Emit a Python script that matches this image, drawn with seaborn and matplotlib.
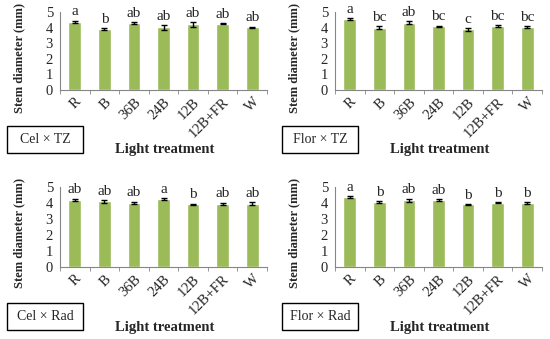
import numpy as np
import pandas as pd
import seaborn as sns
import matplotlib.pyplot as plt
from matplotlib.patches import Rectangle

sns.set_style("white")
plt.rcParams['font.family'] = ['Liberation Serif', 'DejaVu Serif']

# data
treatments = ['R', 'B', '36B', '24B', '12B', '12B+FR', 'W']

cel_tz = [4.36, 3.91, 4.28, 4.01, 4.21, 4.25, 4.01]
cel_tz_err = [0.08, 0.05, 0.08, 0.15, 0.14, 0.05, 0.06]
cel_tz_let = ['a', 'b', 'ab', 'ab', 'ab', 'ab', 'ab']

flor_tz = [4.55, 3.99, 4.31, 4.08, 3.88, 4.08, 4.02]
flor_tz_err = [0.07, 0.10, 0.11, 0.05, 0.10, 0.07, 0.07]
flor_tz_let = ['a', 'bc', 'ab', 'bc', 'c', 'bc', 'bc']

cel_rad = [4.20, 4.10, 4.01, 4.24, 3.91, 3.95, 3.95]
cel_rad_err = [0.07, 0.07, 0.06, 0.06, 0.04, 0.06, 0.10]
cel_rad_let = ['ab', 'ab', 'ab', 'a', 'b', 'ab', 'ab']

flor_rad = [4.37, 4.05, 4.16, 4.16, 3.91, 4.02, 3.98]
flor_rad_err = [0.05, 0.07, 0.10, 0.06, 0.03, 0.03, 0.07]
flor_rad_let = ['a', 'b', 'ab', 'ab', 'b', 'b', 'b']

panels = [
    ('Cel × TZ', cel_tz, cel_tz_err, cel_tz_let),
    ('Flor × TZ', flor_tz, flor_tz_err, flor_tz_let),
    ('Cel × Rad', cel_rad, cel_rad_err, cel_rad_let),
    ('Flor × Rad', flor_rad, flor_rad_err, flor_rad_let),
]

W, H = 550, 339
fig = plt.figure(figsize=(5.5, 3.39), dpi=100)

# pixel layout: (axes left, axes top, axes bottom) per panel
layout = [(60, 12, 90), (335, 12, 90), (60, 187, 267), (335, 187, 267)]
ax_w = 207
green = '#9BBB59'
spine_c = '#868686'

for (name, vals, errs, lets), (lx, ty, by) in zip(panels, layout):
    ax = fig.add_axes([lx / W, 1 - by / H, ax_w / W, (by - ty) / H])
    df = pd.DataFrame({'treatment': treatments, 'diameter': vals})
    sns.barplot(data=df, x='treatment', y='diameter', color=green,
                width=0.43, saturation=1, ax=ax)
    ax.errorbar(np.arange(len(vals)), vals, yerr=errs, fmt='none',
                ecolor='black', elinewidth=1, capsize=2.5, capthick=1)
    for i, (v, e, l) in enumerate(zip(vals, errs, lets)):
        ax.text(i, v + e + 0.15, l, ha='center', va='bottom', fontsize=11)
    ax.set_ylim(0, 5)
    ax.set_xlim(-0.5, len(vals) - 0.5)
    ax.set_yticks(range(6))
    ax.tick_params(axis='y', labelsize=10.5, length=3, color=spine_c, pad=2)
    ax.set_xticks(np.arange(len(vals)))
    ax.set_xticklabels(treatments, rotation=45, ha='right',
                       rotation_mode='anchor', fontsize=10.5)
    ax.tick_params(axis='x', which='major', length=0, pad=4)
    ax.set_xticks(np.arange(-0.5, len(vals), 1), minor=True)
    ax.tick_params(axis='x', which='minor', length=3, color=spine_c,
                   direction='out', bottom=True)
    for s in ['top', 'right']:
        ax.spines[s].set_visible(False)
    for s in ['left', 'bottom']:
        ax.spines[s].set_color(spine_c)
        ax.spines[s].set_linewidth(0.8)
    ax.set_xlabel('')
    ax.set_ylabel('Stem diameter (mm)', fontsize=9, fontweight='bold')
    ax.yaxis.set_label_coords(-35 / ax_w, (by - (ty + 46)) / (by - ty))

    # label box and x-axis title
    bx0 = (lx - 53) / W
    fig.patches.append(Rectangle((bx0, 1 - (by + 63) / H), 76 / W, 27 / H,
                                 transform=fig.transFigure, fill=False,
                                 edgecolor='black', linewidth=1))
    fig.text(bx0 + 38 / W, 1 - (by + 49.5) / H, name, ha='center',
             va='center', fontsize=10)
    fig.text((lx + 105) / W, 1 - (by + 60) / H, 'Light treatment',
             ha='center', va='center', fontsize=10.5, fontweight='bold')

fig.savefig('out.png', dpi=100)
